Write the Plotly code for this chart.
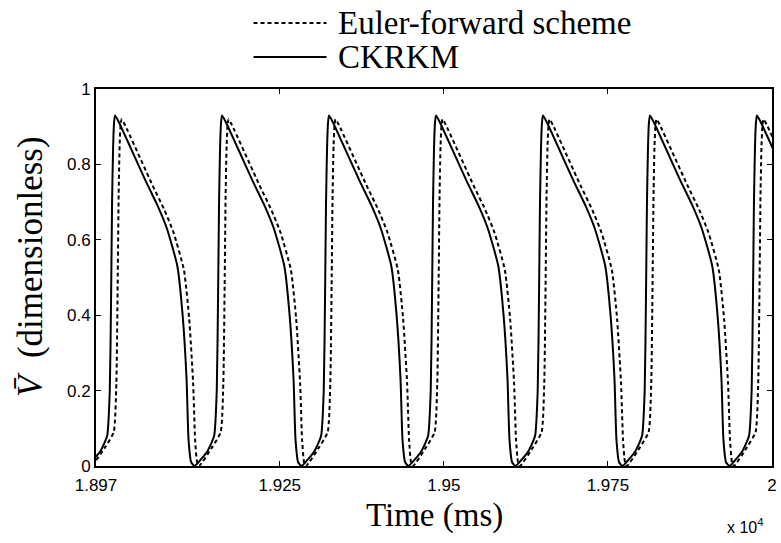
import plotly.graph_objects as go

# Time axis (ms) and membrane potential for the CKRKM solution
ckrkm_t = [
    18957, 18977, 18987, 18991, 18993, 18994.5, 18996, 18997.5,
    18999, 19004, 19046, 19064, 19078, 19094, 19102, 19108, 19111, 19115, 19120,
    19140, 19150, 19154, 19156, 19157.5, 19159, 19160.5,
    19162, 19167, 19209, 19227, 19241, 19257, 19265, 19271, 19274, 19278, 19283,
    19303, 19313, 19317, 19319, 19320.5, 19322, 19323.5,
    19325, 19330, 19372, 19390, 19404, 19420, 19428, 19434, 19437, 19441, 19446,
    19466, 19476, 19480, 19482, 19483.5, 19485, 19486.5,
    19488, 19493, 19535, 19553, 19567, 19583, 19591, 19597, 19600, 19604, 19609,
    19629, 19639, 19643, 19645, 19646.5, 19648, 19649.5,
    19651, 19656, 19698, 19716, 19730, 19746, 19754, 19760, 19763, 19767, 19772,
    19792, 19802, 19806, 19808, 19809.5, 19811, 19812.5,
    19814, 19819, 19861, 19879, 19893, 19909, 19917, 19923, 19926, 19930, 19935,
    19955, 19965, 19969, 19971, 19972.5, 19974, 19975.5,
    19977, 19982, 20024,
]
ckrkm_v = [
    0.00, 0.04, 0.08, 0.20, 0.45, 0.70, 0.84, 0.91,
    0.93, 0.915, 0.755, 0.69, 0.63, 0.53, 0.40, 0.23, 0.07, 0.01, 0.00,
    0.04, 0.08, 0.20, 0.45, 0.70, 0.84, 0.91,
    0.93, 0.915, 0.755, 0.69, 0.63, 0.53, 0.40, 0.23, 0.07, 0.01, 0.00,
    0.04, 0.08, 0.20, 0.45, 0.70, 0.84, 0.91,
    0.93, 0.915, 0.755, 0.69, 0.63, 0.53, 0.40, 0.23, 0.07, 0.01, 0.00,
    0.04, 0.08, 0.20, 0.45, 0.70, 0.84, 0.91,
    0.93, 0.915, 0.755, 0.69, 0.63, 0.53, 0.40, 0.23, 0.07, 0.01, 0.00,
    0.04, 0.08, 0.20, 0.45, 0.70, 0.84, 0.91,
    0.93, 0.915, 0.755, 0.69, 0.63, 0.53, 0.40, 0.23, 0.07, 0.01, 0.00,
    0.04, 0.08, 0.20, 0.45, 0.70, 0.84, 0.91,
    0.93, 0.915, 0.755, 0.69, 0.63, 0.53, 0.40, 0.23, 0.07, 0.01, 0.00,
    0.04, 0.08, 0.20, 0.45, 0.70, 0.84, 0.91,
    0.93, 0.915, 0.755,
]

# Time axis (ms) and membrane potential for the Euler-forward scheme
euler_t = [
    18964, 18984, 18997, 19001, 19003, 19004.5, 19006, 19007.5,
    19009, 19014, 19056, 19074, 19088, 19104, 19112, 19118, 19121, 19124, 19127,
    19147, 19160, 19164, 19166, 19167.5, 19169, 19170.5,
    19172, 19177, 19219, 19237, 19251, 19267, 19275, 19281, 19284, 19287, 19290,
    19310, 19323, 19327, 19329, 19330.5, 19332, 19333.5,
    19335, 19340, 19382, 19400, 19414, 19430, 19438, 19444, 19447, 19450, 19453,
    19473, 19486, 19490, 19492, 19493.5, 19495, 19496.5,
    19498, 19503, 19545, 19563, 19577, 19593, 19601, 19607, 19610, 19613, 19616,
    19636, 19649, 19653, 19655, 19656.5, 19658, 19659.5,
    19661, 19666, 19708, 19726, 19740, 19756, 19764, 19770, 19773, 19776, 19779,
    19799, 19812, 19816, 19818, 19819.5, 19821, 19822.5,
    19824, 19829, 19871, 19889, 19903, 19919, 19927, 19933, 19936, 19939, 19942,
    19962, 19975, 19979, 19981, 19982.5, 19984, 19985.5,
    19987, 19992, 20034,
]
euler_v = [
    0.00, 0.05, 0.09, 0.22, 0.48, 0.72, 0.85, 0.905,
    0.92, 0.905, 0.745, 0.68, 0.62, 0.52, 0.39, 0.22, 0.07, 0.01, 0.00,
    0.05, 0.09, 0.22, 0.48, 0.72, 0.85, 0.905,
    0.92, 0.905, 0.745, 0.68, 0.62, 0.52, 0.39, 0.22, 0.07, 0.01, 0.00,
    0.05, 0.09, 0.22, 0.48, 0.72, 0.85, 0.905,
    0.92, 0.905, 0.745, 0.68, 0.62, 0.52, 0.39, 0.22, 0.07, 0.01, 0.00,
    0.05, 0.09, 0.22, 0.48, 0.72, 0.85, 0.905,
    0.92, 0.905, 0.745, 0.68, 0.62, 0.52, 0.39, 0.22, 0.07, 0.01, 0.00,
    0.05, 0.09, 0.22, 0.48, 0.72, 0.85, 0.905,
    0.92, 0.905, 0.745, 0.68, 0.62, 0.52, 0.39, 0.22, 0.07, 0.01, 0.00,
    0.05, 0.09, 0.22, 0.48, 0.72, 0.85, 0.905,
    0.92, 0.905, 0.745, 0.68, 0.62, 0.52, 0.39, 0.22, 0.07, 0.01, 0.00,
    0.05, 0.09, 0.22, 0.48, 0.72, 0.85, 0.905,
    0.92, 0.905, 0.745,
]

x_tick_vals = [18970, 19250, 19500, 19750, 20000]
x_tick_text = ["1.897", "1.925", "1.95", "1.975", "2"]
y_tick_vals = [0, 0.2, 0.4, 0.6, 0.8, 1]
y_tick_text = ["0", "0.2", "0.4", "0.6", "0.8", "1"]

series_names = ["Euler-forward scheme", "CKRKM"]
x_title = "Time (ms)"
y_title = "<i>V\u0304</i>  (dimensionless)"

SERIF = "Liberation Serif, DejaVu Serif, serif"
SANS = "Liberation Sans, Arial, sans-serif"
DASH = "4px,3px"

fig = go.Figure()
fig.add_trace(go.Scatter(
    x=euler_t, y=euler_v, mode="lines", name=series_names[0],
    line=dict(color="black", width=2, dash=DASH, shape="spline", smoothing=0.5),
    showlegend=False,
))
fig.add_trace(go.Scatter(
    x=ckrkm_t, y=ckrkm_v, mode="lines", name=series_names[1],
    line=dict(color="black", width=2, shape="spline", smoothing=0.5),
    showlegend=False,
))

# Legend drawn above the axes box
legend_rows = [(series_names[0], DASH, 1.175), (series_names[1], "solid", 1.085)]
for name, dash, yp in legend_rows:
    fig.add_shape(type="line", xref="paper", yref="paper",
                  x0=0.233, x1=0.341, y0=yp, y1=yp,
                  line=dict(color="black", width=2, dash=dash))
    fig.add_annotation(text=name, xref="paper", yref="paper",
                       x=0.355, y=yp, xanchor="left", yanchor="middle",
                       showarrow=False, font=dict(family=SERIF, size=33, color="black"))

# Axis titles
fig.add_annotation(text=x_title, xref="paper", yref="paper",
                   x=0.5, y=-0.13, xanchor="center", yanchor="middle",
                   showarrow=False, font=dict(family=SERIF, size=33, color="black"))
fig.add_annotation(text=y_title, xref="paper", yref="paper", textangle=-90,
                   x=-0.098, y=0.53, xanchor="center", yanchor="middle",
                   showarrow=False, font=dict(family=SERIF, size=35, color="black"))

fig.add_annotation(text="x 10<sup>4</sup>", xref="paper", yref="paper",
                   x=0.99, y=-0.16, xanchor="right", yanchor="middle",
                   showarrow=False, font=dict(family=SANS, size=16, color="black"))

fig.update_layout(
    width=781, height=543,
    margin=dict(l=96, r=4, t=89, b=77),
    plot_bgcolor="white", paper_bgcolor="white",
    showlegend=False,
)
fig.update_xaxes(
    range=[18970, 20000], tickvals=x_tick_vals, ticktext=x_tick_text,
    ticks="inside", ticklen=5, tickwidth=1, tickcolor="black",
    showline=True, linecolor="black", linewidth=2, mirror="ticks",
    showgrid=False, zeroline=False, ticklabelstandoff=3,
    tickfont=dict(family=SANS, size=17, color="black"),
)
fig.update_yaxes(
    range=[0, 1], tickvals=y_tick_vals, ticktext=y_tick_text,
    ticks="inside", ticklen=5, tickwidth=1, tickcolor="black",
    showline=True, linecolor="black", linewidth=2, mirror="ticks",
    showgrid=False, zeroline=False,
    tickfont=dict(family=SANS, size=17, color="black"),
)

fig.write_html("out.html")
